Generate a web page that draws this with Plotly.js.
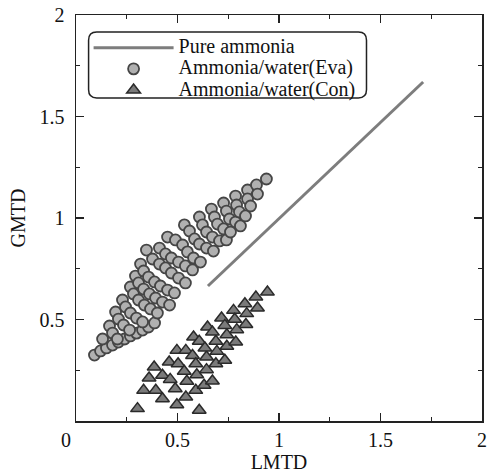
<!DOCTYPE html>
<html>
<head>
<meta charset="utf-8">
<script src="https://cdn.plot.ly/plotly-3.0.1.min.js"></script>
<style>
html,body{margin:0;padding:0;background:#fff}
#chart{width:490px;height:473px}
#chart .legendtext{font-size:20px !important;}
#chart .legend .scrollbox{clip-path:none !important;}
#chart .legend{clip-path:none !important;}
</style>
</head>
<body>
<div id="chart"></div>
<script>
// Pure ammonia line
const pureX = [0.65, 1.71];
const pureY = [0.665, 1.67];

// Ammonia/water evaporator points (LMTD, GMTD)
const evaX = [
  0.091,0.121,0.150,0.180,0.209,0.239,0.268,0.298,0.328,0.357,0.387,
  0.131,
  0.165,0.180,0.204,
  0.195,0.209,0.234,0.264,
  0.229,0.244,0.268,0.298,0.328,
  0.268,0.283,0.308,0.337,0.367,0.401,
  0.293,0.308,0.333,0.362,0.392,0.426,0.461,
  0.318,0.333,0.357,0.387,0.416,0.451,0.485,
  0.347,0.377,0.411,0.441,0.470,0.505,0.539,
  0.411,0.441,0.470,0.505,0.539,0.574,
  0.451,0.490,0.525,0.549,0.579,0.613,
  0.534,0.559,0.584,0.608,0.643,0.677,
  0.608,0.623,0.643,0.672,0.707,0.741,
  0.667,0.682,0.697,0.727,0.761,
  0.727,0.741,0.756,0.786,0.810,
  0.786,0.791,0.805,0.835,
  0.845,0.845,0.860,
  0.889,0.894,
  0.938
];
const evaY = [
  0.325,0.345,0.360,0.374,0.389,0.404,0.419,0.433,0.448,0.463,0.483,
  0.404,
  0.468,0.433,0.404,
  0.537,0.502,0.473,0.448,
  0.596,0.562,0.532,0.507,0.488,
  0.660,0.626,0.596,0.571,0.552,0.532,
  0.714,0.680,0.650,0.626,0.606,0.586,0.571,
  0.773,0.739,0.709,0.685,0.665,0.645,0.631,
  0.842,0.798,0.773,0.754,0.729,0.704,0.680,
  0.852,0.823,0.803,0.783,0.764,0.744,
  0.906,0.892,0.867,0.833,0.803,0.783,
  0.966,0.936,0.897,0.872,0.852,0.837,
  1.005,0.966,0.931,0.906,0.887,0.892,
  1.044,1.005,0.970,0.946,0.931,
  1.074,1.034,0.995,0.980,0.961,
  1.108,1.064,1.030,1.010,
  1.138,1.094,1.059,
  1.163,1.118,
  1.192
];

// Ammonia/water condenser points (LMTD, GMTD)
const conX = [0.303,0.497,0.607,0.333,0.393,0.426,0.489,0.541,0.590,0.631,0.672,0.360,0.426,0.464,0.385,0.459,0.503,0.533,0.546,0.595,0.643,0.689,0.733,0.497,0.541,0.574,0.590,0.643,0.694,0.743,0.787,0.579,0.607,0.635,0.689,0.648,0.672,0.743,0.792,0.717,0.733,0.776,0.782,0.837,0.841,0.832,0.894,0.886,0.943];
const conY = [0.061,0.080,0.053,0.151,0.151,0.110,0.159,0.118,0.151,0.176,0.197,0.212,0.225,0.205,0.266,0.291,0.282,0.245,0.196,0.228,0.253,0.282,0.299,0.348,0.348,0.323,0.282,0.315,0.343,0.368,0.389,0.414,0.393,0.360,0.393,0.463,0.438,0.425,0.450,0.507,0.471,0.545,0.501,0.475,0.529,0.578,0.557,0.611,0.635];

const seriesNames = ['Pure ammonia', 'Ammonia/water(Eva)', 'Ammonia/water(Con)'];
const xTicks = [0, 0.5, 1, 1.5, 2];
const xTickText = ['0\u00a0\u00a0\u00a0\u00a0', '0.5', '1', '1.5', '2'];
const yTicks = [0.5, 1, 1.5, 2];
const yTickText = ['0.5', '1', '1.5', '2'];

const FONT = '"Liberation Serif", "Times New Roman", serif';

const traces = [
  {x: pureX, y: pureY, name: seriesNames[0], mode: 'lines', type: 'scatter',
   line: {color: '#7d7d7d', width: 3}},
  {x: evaX, y: evaY, name: seriesNames[1], mode: 'markers', type: 'scatter',
   marker: {symbol: 'circle', size: 11, color: '#b0b0b0', line: {color: '#454545', width: 1.8}}},
  {x: conX, y: conY, name: seriesNames[2], mode: 'markers', type: 'scatter',
   marker: {symbol: 'triangle-up', size: 12, color: '#7a7a7a', line: {color: '#2a2a2a', width: 1.5}}}
];

function rr(x0, y0, x1, y1, rx, ry) {
  return 'M' + (x0 + rx) + ',' + y1 + ' L' + (x1 - rx) + ',' + y1 +
    ' Q' + x1 + ',' + y1 + ' ' + x1 + ',' + (y1 - ry) +
    ' L' + x1 + ',' + (y0 + ry) + ' Q' + x1 + ',' + y0 + ' ' + (x1 - rx) + ',' + y0 +
    ' L' + (x0 + rx) + ',' + y0 + ' Q' + x0 + ',' + y0 + ' ' + x0 + ',' + (y0 + ry) +
    ' L' + x0 + ',' + (y1 - ry) + ' Q' + x0 + ',' + y1 + ' ' + (x0 + rx) + ',' + y1 + ' Z';
}

const axisCommon = {
  range: [0, 2], showgrid: false, zeroline: false,
  showline: true, linecolor: '#222', linewidth: 1.5, mirror: 'allticks',
  ticks: 'inside', ticklen: 8, tickwidth: 1.2, tickcolor: '#222',
  minor: {dtick: 0.25, tick0: 0, ticks: 'inside', ticklen: 4, tickwidth: 1, tickcolor: '#222'},
  tickfont: {family: FONT, size: 20, color: '#111'},
  fixedrange: true
};

const layout = {
  width: 490, height: 473,
  margin: {l: 76, r: 8, t: 15, b: 52},
  paper_bgcolor: '#fff', plot_bgcolor: '#fff',
  font: {family: FONT, color: '#111'},
  showlegend: true,
  legend: {
    x: 0.031, y: 0.958, xanchor: 'left', yanchor: 'top',
    bgcolor: 'rgba(0,0,0,0)', borderwidth: 0,
    font: {family: FONT, size: 14, color: '#111'},
    itemwidth: 80, tracegroupgap: 0
  },
  xaxis: Object.assign({}, axisCommon, {
    tickvals: xTicks, ticktext: xTickText,
    ticklabelstandoff: 0,
    title: {text: 'LMTD', font: {family: FONT, size: 20, color: '#111'}, standoff: 12}
  }),
  yaxis: Object.assign({}, axisCommon, {
    tickvals: yTicks, ticktext: yTickText,
    ticklabelstandoff: 6,
    title: {text: 'GMTD', font: {family: FONT, size: 20, color: '#111'}, standoff: 8}
  }),
  shapes: [
    {type: 'path', xref: 'paper', yref: 'paper',
     path: rr(0.031, 0.7956, 0.7155, 0.958, 0.02, 0.02),
     line: {color: '#222', width: 1.5}, fillcolor: 'rgba(0,0,0,0)'}
  ]
};

Plotly.newPlot('chart', traces, layout, {staticPlot: true, displayModeBar: false});
</script>
</body>
</html>
